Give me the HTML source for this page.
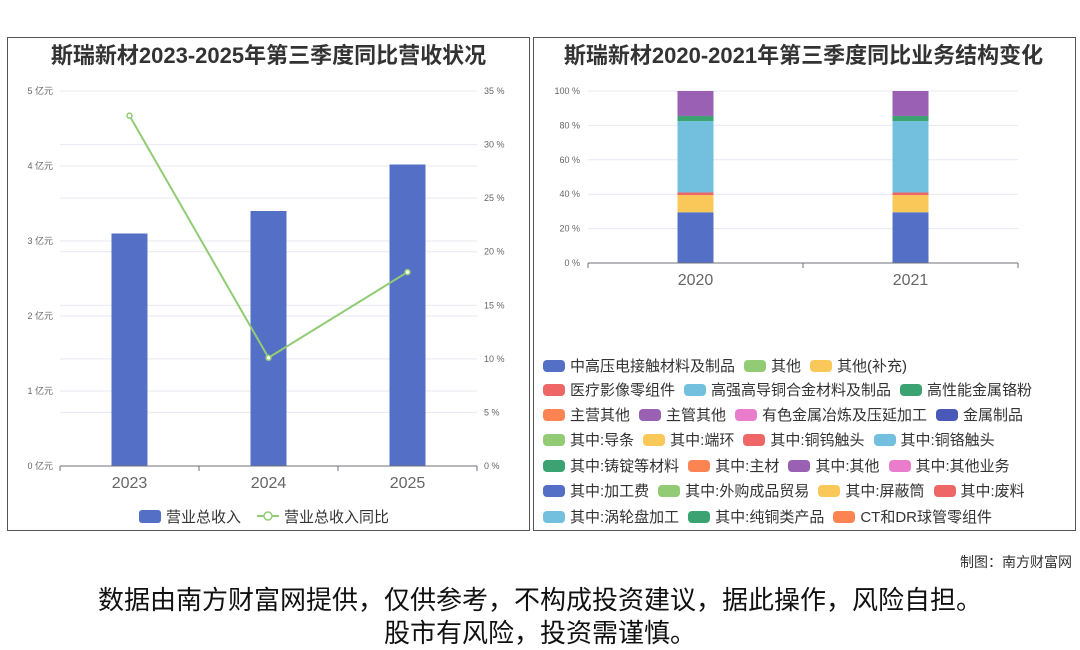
<!DOCTYPE html>
<html><head><meta charset="utf-8">
<style>
body{margin:0;width:1080px;height:646px;background:#fff;font-family:"Liberation Sans","Noto Sans CJK SC",sans-serif;overflow:hidden;position:relative}
.panel{position:absolute;border:1px solid #555;background:#fff}
.title{position:absolute;top:4px;left:0;right:0;text-align:center;font-weight:bold;font-size:22px;color:#333;white-space:nowrap}
.leg{position:absolute;left:543px;font-size:15px;color:#333;display:flex;white-space:nowrap}
.li{display:flex;align-items:center;margin-right:9px}
.sw{width:22px;height:12px;border-radius:4px;margin-right:5px}
.foot{position:absolute;left:0;right:0;text-align:center;font-size:26px;color:#111;white-space:nowrap}
</style></head><body>
<div class="panel" style="left:7px;top:37px;width:521px;height:492px"></div>
<div class="panel" style="left:533px;top:37px;width:541px;height:492px"></div>
<svg width="1080" height="646" style="position:absolute;left:0;top:0" id="svg"></svg>
<div class="title" style="left:8px;width:521px;top:38px">斯瑞新材2023-2025年第三季度同比营收状况</div>
<div class="title" style="left:533px;width:541px;top:38px">斯瑞新材2020-2021年第三季度同比业务结构变化</div>
<div id="legR"></div>
<div style="position:absolute;right:8px;top:552px;font-size:14px;color:#333">制图：南方财富网</div>
<div class="foot" style="top:580px">数据由南方财富网提供，仅供参考，不构成投资建议，据此操作，风险自担。</div>
<div class="foot" style="top:613px">股市有风险，投资需谨慎。</div>
<script>
const years=['2023','2024','2025'];
const revenue=[3.1,3.4,4.02];
const yoy=[32.7,10.1,18.1];
const leftTicks=[0,1,2,3,4,5];
const rightTicks=[0,5,10,15,20,25,30,35];
const years2=['2020','2021'];
const segNames=['中高压电接触材料及制品','其他(补充)','医疗影像零组件','高强高导铜合金材料及制品','高性能金属铬粉','主管其他'];
const seg2020=[29.5,10,1.5,41.5,3,14.5];
const seg2021=[29.5,10,1.5,41.5,3,14.5];
const segColors=['#5470c6','#fac858','#ee6666','#73c0de','#3ba272','#9a60b4'];
const pctTicks=[0,20,40,60,80,100];
const legendRows=[
[['中高压电接触材料及制品','#5470c6'],['其他','#91cc75'],['其他(补充)','#fac858']],
[['医疗影像零组件','#ee6666'],['高强高导铜合金材料及制品','#73c0de'],['高性能金属铬粉','#3ba272']],
[['主营其他','#fc8452'],['主管其他','#9a60b4'],['有色金属冶炼及压延加工','#ea7ccc'],['金属制品','#4959b8']],
[['其中:导条','#91cc75'],['其中:端环','#fac858'],['其中:铜钨触头','#ee6666'],['其中:铜铬触头','#73c0de']],
[['其中:铸锭等材料','#3ba272'],['其中:主材','#fc8452'],['其中:其他','#9a60b4'],['其中:其他业务','#ea7ccc']],
[['其中:加工费','#5470c6'],['其中:外购成品贸易','#91cc75'],['其中:屏蔽筒','#fac858'],['其中:废料','#ee6666']],
[['其中:涡轮盘加工','#73c0de'],['其中:纯铜类产品','#3ba272'],['CT和DR球管零组件','#fc8452']]];
const rowY=[365,389,414,439,465,490,516];
const svg=document.getElementById('svg');
const NS='http://www.w3.org/2000/svg';
function mk(t,a,p){const e=document.createElementNS(NS,t);for(const k in a)e.setAttribute(k,a[k]);(p||svg).appendChild(e);return e;}
const L={x0:60,x1:477,y0:466,y1:91};
const yl=v=>L.y0-(v/5)*(L.y0-L.y1);
const yr=v=>L.y0-(v/35)*(L.y0-L.y1);
const bw=(L.x1-L.x0)/years.length;
const xc=i=>L.x0+bw*(i+0.5);
leftTicks.forEach(t=>{if(t>0){const g=mk('line',{x1:L.x0,x2:L.x1,y1:yl(t),y2:yl(t),stroke:'#e6e9f2'});}
 const tx=mk('text',{x:53,y:yl(t)+3,'font-size':9,fill:'#666','text-anchor':'end'});tx.textContent=t+' 亿元';});
rightTicks.forEach(t=>{if(t>0){const g=mk('line',{x1:L.x0,x2:L.x1,y1:yr(t),y2:yr(t),stroke:'#e6e9f2'});}
 const tx=mk('text',{x:484,y:yr(t)+3,'font-size':9,fill:'#666'});tx.textContent=t+' %';});
revenue.forEach((v,i)=>{const r=mk('rect',{x:xc(i)-18,y:yl(v),width:36,height:L.y0-yl(v),fill:'#5470c6'});});
mk('line',{x1:L.x0,x2:L.x1,y1:L.y0,y2:L.y0,stroke:'#6e7079'});
for(let i=0;i<=years.length;i++)mk('line',{x1:L.x0+bw*i,x2:L.x0+bw*i,y1:L.y0,y2:L.y0+5,stroke:'#6e7079'});
years.forEach((y,i)=>{const t=mk('text',{x:xc(i),y:488,'font-size':16,fill:'#666','text-anchor':'middle'});t.textContent=y;});
const pl=mk('polyline',{points:yoy.map((v,i)=>xc(i)+','+yr(v)).join(' '),fill:'none',stroke:'#91cc75','stroke-width':2});

yoy.forEach((v,i)=>{const c=mk('circle',{cx:xc(i),cy:yr(v),r:2.5,fill:'#fff',stroke:'#91cc75','stroke-width':1.5});});
mk('rect',{x:139,y:510,width:22,height:13,rx:3,fill:'#5470c6'});
let t1=mk('text',{x:166,y:522,'font-size':15,fill:'#333'});t1.textContent='营业总收入';
mk('line',{x1:257,x2:279,y1:516,y2:516,stroke:'#91cc75','stroke-width':2});
mk('circle',{cx:268,cy:516,r:4,fill:'#fff',stroke:'#91cc75','stroke-width':1.5});
let t2=mk('text',{x:284,y:522,'font-size':15,fill:'#333'});t2.textContent='营业总收入同比';
const R={x0:588,x1:1018,y0:263,y1:91};
const yp=v=>R.y0-(v/100)*(R.y0-R.y1);
const bw2=(R.x1-R.x0)/years2.length;
const xc2=i=>R.x0+bw2*(i+0.5);
pctTicks.forEach(t=>{if(t>0){const g=mk('line',{x1:R.x0,x2:R.x1,y1:yp(t),y2:yp(t),stroke:'#e6e9f2'});}
 const tx=mk('text',{x:580,y:yp(t)+3,'font-size':9,fill:'#666','text-anchor':'end'});tx.textContent=t+' %';});
[seg2020,seg2021].forEach((arr,i)=>{let acc=0;arr.forEach((v,k)=>{const r=mk('rect',{x:xc2(i)-18,y:yp(acc+v),width:36,height:yp(acc)-yp(acc+v),fill:segColors[k]});acc+=v;});});
mk('line',{x1:R.x0,x2:R.x1,y1:R.y0,y2:R.y0,stroke:'#6e7079'});
for(let i=0;i<=years2.length;i++)mk('line',{x1:R.x0+bw2*i,x2:R.x0+bw2*i,y1:R.y0,y2:R.y0+5,stroke:'#6e7079'});
years2.forEach((y,i)=>{const t=mk('text',{x:xc2(i),y:285,'font-size':16,fill:'#666','text-anchor':'middle'});t.textContent=y;});
const lg=document.getElementById('legR');
legendRows.forEach((row,ri)=>{const d=document.createElement('div');d.className='leg';d.style.top=(rowY[ri]-10)+'px';


row.forEach(([n,c])=>{const it=document.createElement('div');it.className='li';


it.innerHTML='<span class="sw" style="background:'+c+'"></span><span>'+n+'</span>';d.appendChild(it);});lg.appendChild(d);});
</script>
</body></html>
